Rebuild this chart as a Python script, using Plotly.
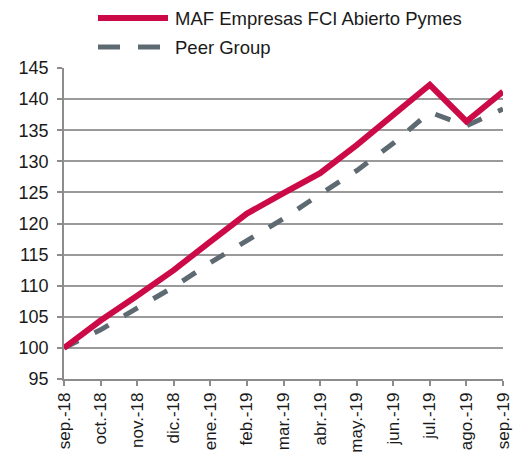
import plotly.graph_objects as go

categories = ["sep.-18", "oct.-18", "nov.-18", "dic.-18", "ene.-19", "feb.-19", "mar.-19",
              "abr.-19", "may.-19", "jun.-19", "jul.-19", "ago.-19", "sep.-19"]
maf = [100, 104.4, 108.4, 112.5, 117.1, 121.6, 124.9, 128.1, 132.6, 137.4, 142.3, 136.4, 141.2]
peer = [100, 102.9, 106.4, 109.8, 113.7, 117.2, 120.8, 124.7, 128.5, 132.9, 137.9, 135.7, 138.4]
series_names = ["MAF Empresas FCI Abierto Pymes", "Peer Group"]
y_ticks = list(range(95, 150, 5))

RED = "#CC0A47"
GRAY = "#5E6A72"
FONT = "Liberation Sans, Arial, sans-serif"

fig = go.Figure()
fig.add_trace(go.Scatter(x=categories, y=peer, mode="lines", name=series_names[1],
                         line=dict(color=GRAY, width=5, dash="16px,18px"), showlegend=False))
fig.add_trace(go.Scatter(x=categories, y=maf, mode="lines", name=series_names[0],
                         line=dict(color=RED, width=6), showlegend=False))

W, H = 521, 453
ml, mr, mt, mb = 64, 18, 68, 74
pw, ph = W - ml - mr, H - mt - mb

def px(x):
    return (x - ml) / pw

def py(y):
    return 1 - (y - mt) / ph

# manual legend
fig.add_shape(type="line", xref="paper", yref="paper", x0=px(98), x1=px(168), y0=py(18), y1=py(18),
              line=dict(color=RED, width=6))
fig.add_shape(type="line", xref="paper", yref="paper", x0=px(98), x1=px(120), y0=py(47), y1=py(47),
              line=dict(color=GRAY, width=5))
fig.add_shape(type="line", xref="paper", yref="paper", x0=px(138), x1=px(160), y0=py(47), y1=py(47),
              line=dict(color=GRAY, width=5))
for name, yy in zip(series_names, [18, 47]):
    fig.add_annotation(text=name, xref="paper", yref="paper", x=px(173), y=py(yy),
                       xanchor="left", yanchor="middle", showarrow=False,
                       font=dict(size=18.5, color="#1a1a1a", family=FONT))

fig.update_layout(
    width=W, height=H,
    margin=dict(l=ml, r=mr, t=mt, b=mb),
    paper_bgcolor="white", plot_bgcolor="white",
    font=dict(family=FONT, size=18, color="#1a1a1a"),
    showlegend=False,
)
fig.update_xaxes(type="category", range=[0, len(categories) - 1], showgrid=False, automargin=False,
                 showline=True, linecolor="#8c8c8c", linewidth=1.5,
                 ticks="outside", ticklen=5, tickcolor="#8c8c8c", tickwidth=1.5,
                 tickangle=-90, tickfont=dict(size=17))
fig.update_yaxes(range=[95, 145], tickvals=y_ticks, showgrid=True, gridcolor="#9a9a9a", gridwidth=1.5,
                 showline=True, linecolor="#8c8c8c", linewidth=1.5, automargin=False,
                 ticks="outside", ticklen=5, tickcolor="#8c8c8c", tickwidth=1.5,
                 tickfont=dict(size=18), zeroline=False, ticklabelstandoff=5)

fig.write_html("out.html", config={"displayModeBar": False},
               post_script="document.body.style.margin='0';document.body.style.overflow='hidden';")
